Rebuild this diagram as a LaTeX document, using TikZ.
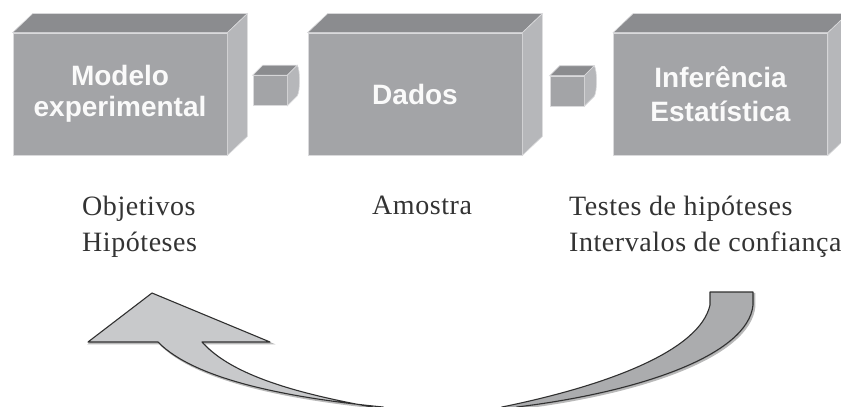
\documentclass[tikz,border=0pt]{standalone}
\usepackage{fontspec}
\setmainfont{Liberation Serif}[LetterSpace=2]
\newfontfamily\boxfont{Liberation Sans}
\usetikzlibrary{calc}
\definecolor{frontc}{HTML}{A3A4A7}
\definecolor{topc}{HTML}{8B8C8F}
\definecolor{sidec}{HTML}{B6B7BA}
\definecolor{edgec}{HTML}{DADADC}
\definecolor{txtc}{HTML}{333333}
\definecolor{arrlight}{HTML}{C8C9CB}
\definecolor{arrdark}{HTML}{ABACAE}
\definecolor{arrline}{HTML}{303030}
\tikzset{
  bigbox/.style={fill=frontc, draw=edgec, line width=0.8pt, minimum width=214pt, minimum height=122pt,
    inner sep=0pt, text=white!96!gray, align=center, font=\boxfont\bfseries\fontsize{28}{31}\selectfont},
  smallbox/.style={fill=frontc, draw=edgec, line width=0.6pt, minimum width=34pt, minimum height=30pt, inner sep=0pt},
  topface/.style={fill=topc, draw=edgec, line width=0.6pt},
  sideface/.style={fill=sidec, draw=edgec, line width=0.6pt},
  lbl/.style={anchor=north west, inner sep=0pt, align=left, text=txtc, font=\fontsize{28}{36}\selectfont},
  arrshadow/.style={draw=gray!55, line width=1.6pt},
  arrpart/.style={draw=arrline, line width=1.1pt, line join=round}
}
\begin{document}
\begin{tikzpicture}[x=1pt,y=-1pt]
\useasboundingbox (0,0) rectangle (841,407);
\clip (0,0) rectangle (841,407);
% big boxes
\node[bigbox] (b1) at (120,94) {Modelo\\experimental};
\node[bigbox] (b2) at (415,94) {Dados};
\node[bigbox, font=\boxfont\bfseries\fontsize{28}{34}\selectfont] (b3) at (720.5,94) {Inferência\\Estatística};
\foreach \b in {b1,b2,b3}{
  \draw[topface] (\b.north west) -- ++(20,-19) -- ($(\b.north east)+(20,-19)$) -- (\b.north east) -- cycle;
  \draw[sideface] (\b.north east) -- ++(20,-19) -- ($(\b.south east)+(20,-19)$) -- (\b.south east) -- cycle;
}
% small connector cubes
\node[smallbox] (c1) at (270,90.5) {};
\node[smallbox] (c2) at (567,91) {};
\foreach \c in {c1,c2}{
  \draw[topface] (\c.north west) -- ++(10,-10) -- ($(\c.north east)+(10,-10)$) -- (\c.north east) -- cycle;
  \draw[sideface] (\c.north east) -- ++(10,-10) .. controls +(3,5) and +(3,-5) .. ($(\c.south east)+(10,-10)$) -- (\c.south east) -- cycle;
}
% labels
\node[lbl] (l1) at (82,196) {Objetivos\\Hipóteses};
\node[lbl] (l2) at (372,196) {Amostra};
\node[lbl] (l3) at (569,196) {Testes de hipóteses\\Intervalos de confiança};
% curved arrow: light half with head, darker half with tail
\foreach \s/\st in {1/arrshadow,0/arrpart}{
  \begin{scope}[shift={(1.6*\s,1.6*\s)}]
  \path[\st, fill=arrlight] (152,293) -- (270,342) -- (202,342)
    .. controls (232,376) and (300,394) .. (372,407) -- (376,412) -- (390,412) -- (383,407)
    .. controls (290,398) and (195,380) .. (158,342) -- (88,342) -- cycle;
  \path[\st, fill=arrdark] (710,292) -- (753,292) -- (753,305)
    .. controls (748,355) and (640,392) .. (517,407) -- (510,412) -- (495,412) -- (502,407)
    .. controls (610,385) and (700,350) .. (710,305) -- cycle;
  \end{scope}
}
\end{tikzpicture}
\end{document}
